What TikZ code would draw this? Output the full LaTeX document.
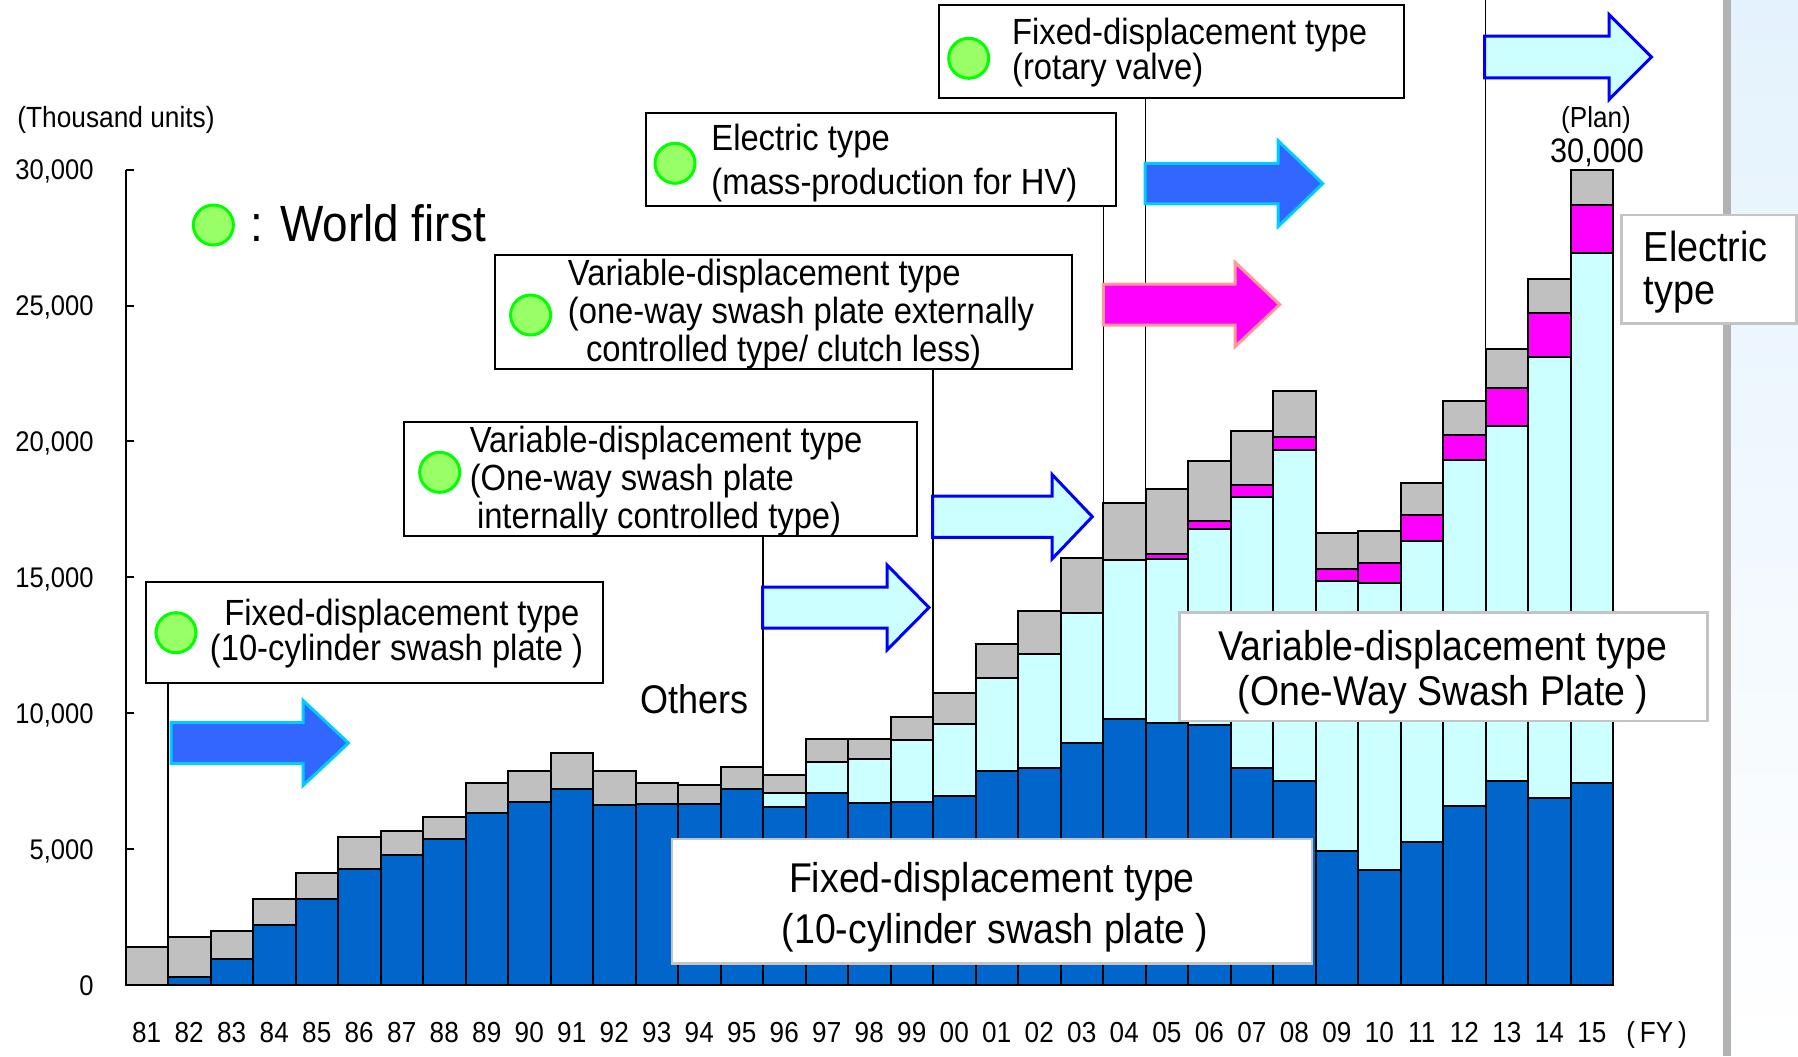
\documentclass[tikz,border=0pt]{standalone}
\usepackage{fontspec}
\setmainfont{Liberation Sans}[FakeStretch=0.9]
\definecolor{fixblue}{RGB}{0,102,204}
\definecolor{varcyan}{RGB}{204,255,255}
\definecolor{elecmag}{RGB}{255,0,255}
\definecolor{othgrey}{RGB}{192,192,192}
\definecolor{arrowblue}{RGB}{51,102,255}
\definecolor{arrowcyan}{RGB}{0,204,255}
\definecolor{arrowpink}{RGB}{255,153,153}
\definecolor{dotgreen}{RGB}{153,255,102}
\definecolor{ringgreen}{RGB}{0,255,0}
\definecolor{boxgrey}{RGB}{196,196,196}
\definecolor{bandgrey}{RGB}{178,178,178}
\definecolor{panelblue}{RGB}{228,242,253}
\def\fatarrow[#1](#2,#3)(#4:#5:#6:#7){\draw[#1] (#2,#3) ++(0,-#6) -- ++(#4,0) -- ++(0,#6-#7) -- ++(#5,#7) -- ++(-#5,#7) -- ++(0,#6-#7) -- ++(-#4,0) -- cycle;}
\tikzset{
  callout/.style={draw=black, line width=1pt, fill=white, inner sep=0pt},
  bigbox/.style={draw=boxgrey, line width=1.2pt, fill=white, inner sep=0pt},
  firstmark/.style={circle, draw=ringgreen, fill=dotgreen, line width=1.5pt, minimum size=20pt, inner sep=0pt},
  calltext/.style={anchor=base west, inner sep=0pt, font=\fontsize{18.2}{20}\selectfont},
  bigtext/.style={anchor=base, inner sep=0pt, font=\fontsize{20.8}{24}\selectfont},
  leader/.style={line width=0.7pt},
  bar/.style={draw=black, line width=1pt},
  axisline/.style={line width=1pt},
  yearlab/.style={anchor=base, inner sep=0pt, font=\fontsize{14.5}{16}\selectfont},
  ticklab/.style={anchor=base east, inner sep=0pt, font=\fontsize{14.2}{16}\selectfont},
  solidarrow/.style={fill=arrowblue, draw=arrowcyan, line width=1.5pt},
  hollowarrow/.style={fill=varcyan, draw=blue, line width=1.5pt},
  elecarrow/.style={fill=elecmag, draw=arrowpink, line width=1.5pt},
}
\begin{document}
\begin{tikzpicture}[x=0.5pt, y=-0.5pt]
		%%%%% FRAME %%%%%
		\useasboundingbox (0,0) rectangle (1798,1056);
		\shade[top color=panelblue, bottom color=white] (1731,0) rectangle (1798,1056);
		\fill[bandgrey] (1723.3,0) rectangle (1731,1056);
		
		%%%%% WORLD FIRST BOXES %%%%%
		\node[firstmark] (legdot) at (213.4,225) {};
		\node[anchor=base west, inner sep=0pt, font=\fontsize{25.5}{28}\selectfont] (legtxt) at (250,241.7) {: World first};
		
		\node[callout, minimum width=228.2pt, minimum height=50.2pt] (fixA) at (374.6,632.5) {};
		\node[firstmark] (dotA) at (176,632.7) {};
		\node[calltext] (fixA1) at (224,625) {Fixed-displacement type};
		\node[calltext] (fixA2) at (209.5,660) {(10-cylinder swash plate )};
		
		\node[callout, minimum width=256.45pt, minimum height=57pt] (varB) at (660.25,478.7) {};
		\node[firstmark] (dotB) at (439.7,472.3) {};
		\node[calltext] (varB1) at (469.4,452.3) {Variable-displacement type};
		\node[calltext] (varB2) at (469.4,490) {(One-way swash plate};
		\node[calltext] (varB3) at (476.6,528.3) {internally controlled type)};
		
		\node[callout, minimum width=288.75pt, minimum height=57pt] (varC) at (783.45,312.3) {};
		\node[firstmark] (dotC) at (530.6,315) {};
		\node[calltext] (varC1) at (567.5,285) {Variable-displacement type};
		\node[calltext] (varC2) at (567.5,323.3) {(one-way swash plate externally};
		\node[calltext] (varC3) at (585.6,361.7) {controlled type/ clutch less)};
		
		\node[callout, minimum width=235.4pt, minimum height=46.35pt] (elecD) at (880.9,159.65) {};
		\node[firstmark] (dotD) at (675,163.3) {};
		\node[calltext] (elecD1) at (711,150.7) {Electric type};
		\node[calltext] (elecD2) at (711,194.3) {(mass-production for HV)};
		
		\node[callout, minimum width=232.5pt, minimum height=46.5pt] (fixE) at (1171.5,51.2) {};
		\node[firstmark] (dotE) at (968.7,58.3) {};
		\node[calltext] (fixE1) at (1011.7,44.3) {Fixed-displacement type};
		\node[calltext] (fixE2) at (1011.7,79) {(rotary valve)};
		
		%%%%% LEADERS %%%%%
		\coordinate (axA) at (168,985);
		\coordinate (axB) at (763,985);
		\coordinate (axC) at (933,985);
		\coordinate (axD) at (1103.5,985);
		\coordinate (axE) at (1145.5,985);
		\coordinate (axF) at (1485.5,985);
		\coordinate (topF) at (1485.5,0);
		\draw[leader] (fixA.south -| axA) -- (axA);
		\draw[leader] (varB.south -| axB) -- (axB);
		\draw[leader] (varC.south -| axC) -- (axC);
		\draw[leader] (elecD.south -| axD) -- (axD);
		\draw[leader] (fixE.south -| axE) -- (axE);
		\draw[leader] (topF) -- (axF);
		
		%%%%% BARS %%%%%
		\foreach \i/\yr/\f/\v/\e/\t in {0/81/0/0/0/1.39, 1/82/0.28/0.28/0.28/1.75, 2/83/0.95/0.95/0.95/2.00,
			3/84/2.20/2.20/2.20/3.16, 4/85/3.15/3.15/3.15/4.13, 5/86/4.26/4.26/4.26/5.46,
			6/87/4.78/4.78/4.78/5.67, 7/88/5.36/5.36/5.36/6.19, 8/89/6.32/6.32/6.32/7.43,
			9/90/6.75/6.75/6.75/7.87, 10/91/7.20/7.20/7.20/8.55, 11/92/6.61/6.61/6.61/7.87,
			12/93/6.66/6.66/6.66/7.43, 13/94/6.66/6.66/6.66/7.36, 14/95/7.20/7.20/7.20/8.02,
			15/96/6.54/7.05/7.05/7.71, 16/97/7.05/8.22/8.22/9.05, 17/98/6.68/8.32/8.32/9.05,
			18/99/6.75/9.03/9.03/9.85, 19/00/6.96/9.61/9.61/10.74, 20/01/7.87/11.30/11.30/12.56,
			21/02/7.98/12.19/12.19/13.75, 22/03/8.90/13.67/13.67/15.72, 23/04/9.77/15.63/15.63/17.73,
			24/05/9.64/15.66/15.87/18.24, 25/06/9.56/16.77/17.06/19.29, 26/07/7.98/17.94/18.39/20.38,
			27/08/7.49/19.70/20.17/21.85, 28/09/4.92/14.85/15.29/16.62, 29/10/4.25/14.78/15.51/16.70,
			30/11/5.26/16.32/17.28/18.46, 31/12/6.59/19.33/20.25/21.49, 32/13/7.49/20.58/21.97/23.41,
			33/14/6.87/23.10/24.71/25.98, 34/15/7.42/26.93/28.68/30.00}{
			\draw[bar, fill=fixblue] ({125.5+\i*42.5},985) rectangle ({168+\i*42.5},{985-\f*27.18});
			\draw[bar, fill=varcyan] ({125.5+\i*42.5},{985-\f*27.18}) rectangle ({168+\i*42.5},{985-\v*27.18});
			\draw[bar, fill=elecmag] ({125.5+\i*42.5},{985-\v*27.18}) rectangle ({168+\i*42.5},{985-\e*27.18});
			\draw[bar, fill=othgrey] ({125.5+\i*42.5},{985-\e*27.18}) rectangle ({168+\i*42.5},{985-\t*27.18});
			\node[yearlab] (yr\i) at ({146.75+\i*42.5},1042.7) {\yr};
		}
		
		%%%%% AXIS %%%%%
		\draw[axisline] (125.5,169.6) -- (125.5,985) -- (1613,985);
		\foreach \k/\lab in {0/0, 1/{5,000}, 2/{10,000}, 3/{15,000}, 4/{20,000}, 5/{25,000}, 6/{30,000}}{
			\draw[axisline] (125.5,{985-\k*135.9}) -- (134,{985-\k*135.9});
			\node[ticklab] (tick\k) at (94,{995-\k*135.9}) {\lab};
		}
		\node[anchor=base west, inner sep=0pt, font=\fontsize{14.6}{16}\selectfont] (units) at (17,127) {(Thousand units)};
		\node[anchor=base west, inner sep=0pt, font=\fontsize{14.5}{16}\selectfont] (fy) at (1626,1042.7) {(\,FY\,)};
		\node[anchor=base west, inner sep=0pt, font=\fontsize{20}{22}\selectfont] (others) at (640,713.3) {Others};
		\node[anchor=base, inner sep=0pt, font=\fontsize{14.5}{16}\selectfont] (plan) at (1596,127) {(Plan)};
		\node[anchor=base, inner sep=0pt, font=\fontsize{17}{19}\selectfont] (planval) at (1597,162.7) {30,000};
		
		%%%%% ARROWS %%%%%
		\fatarrow[solidarrow](171,743)(132:45.5:20.3:42.6);
		\fatarrow[hollowarrow](762.5,607.5)(124.5:42:20.5:42.5);
		\fatarrow[hollowarrow](932.5,516.7)(119.5:40.3:20.7:42.3);
		\fatarrow[elecarrow](1103.3,304.5)(131.7:44.7:20.5:42.2);
		\fatarrow[solidarrow](1145,183.6)(133:44.7:20.3:43);
		\fatarrow[hollowarrow](1484.5,57)(124.5:42.4:20.8:42.6);
		
		%%%%% TYPE BOXES %%%%%
		\node[bigbox, minimum width=87.35pt, minimum height=54.15pt] (elecF) at (1708.95,269.15) {};
		\node[anchor=base west, inner sep=0pt, font=\fontsize{21}{24}\selectfont] (elecF1) at (1643.4,261.7) {Electric};
		\node[anchor=base west, inner sep=0pt, font=\fontsize{21}{24}\selectfont] (elecF2) at (1643.4,304) {type};
		
		\node[bigbox, minimum width=263.9pt, minimum height=54.05pt] (varG) at (1443.4,666.65) {};
		\node[bigtext] (varG1) at (1443,660.8) {Variable-displacement type};
		\node[bigtext] (varG2) at (1443,705.9) {(One-Way Swash Plate )};
		
		\node[bigbox, minimum width=320pt, minimum height=62.35pt] (fixH) at (992,901.05) {};
		\node[bigtext] (fixH1) at (992,892.8) {Fixed-displacement type};
		\node[bigtext] (fixH2) at (995,943.7) {(10-cylinder swash plate )};
		
		%%%%% END %%%%%
	\end{tikzpicture}
\end{document}
